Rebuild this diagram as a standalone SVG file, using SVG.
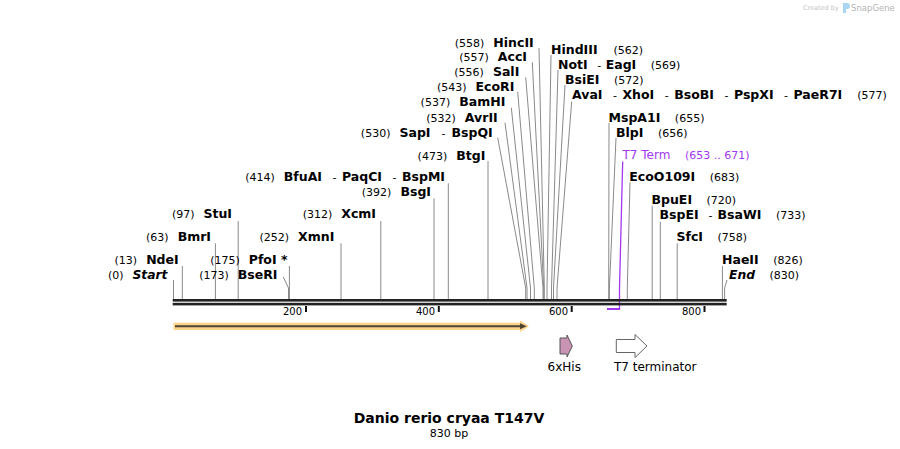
<svg xmlns="http://www.w3.org/2000/svg" width="900" height="449" viewBox="0 0 900 449">
<style>
text{font-family:"DejaVu Sans","Verdana",sans-serif;fill:#000}
.n{font-size:11px;font-weight:normal}
.b{font-size:12.5px;font-weight:bold}
.bi{font-size:12.3px;font-weight:bold;font-style:italic}
.h{font-size:11px;font-weight:normal}
.cut{fill:none;stroke:#8a8a8a;stroke-width:1}
.term{fill:none;stroke:#a238ef;stroke-width:1.3}
.pt{fill:#a238ef}
.ft{font-size:12px}
.rl{font-size:10px}
</style>
<rect width="900" height="449" fill="#fff"/>
<g id="watermark">
<text x="803" y="10" style="font-size:6.5px;fill:#c4c4c4">Created by</text>
<path d="M843,3 h4 a3,3 0 0 1 0,6 h-1 v4 h-3 z" fill="#a9d4f2"/>
<text x="851" y="11" style="font-size:8.5px;fill:#b4b4b4">SnapGene</text>
</g>
<g id="connectors">
<polyline class="cut" points="173.5,299 173.5,280"/>
<polyline class="cut" points="182.3,299 182.3,266"/>
<polyline class="cut" points="215.4,299 215.4,243.3"/>
<polyline class="cut" points="238.2,299 238.2,221"/>
<polyline class="cut" points="288.5,299 288.5,288 283.3,277"/>
<polyline class="cut" points="289.4,299 289.4,266"/>
<polyline class="cut" points="341,299 341,243.3"/>
<polyline class="cut" points="380.8,299 380.8,221"/>
<polyline class="cut" points="434,299 434,198.3"/>
<polyline class="cut" points="448.3,299 448.3,183.3"/>
<polyline class="cut" points="488,299 488,161"/>
<polyline class="cut" points="525.7,299 525.7,288 497.7,137.7"/>
<polyline class="cut" points="527,299 527,288 505,122.7"/>
<polyline class="cut" points="530.5,299 530.5,288 511.3,107.7"/>
<polyline class="cut" points="534.3,299 534.3,288 517.7,91.7"/>
<polyline class="cut" points="543,299 543,288 525.7,77.3"/>
<polyline class="cut" points="543.7,299 543.7,288 532.3,62.3"/>
<polyline class="cut" points="544.3,299 544.3,288 539,48"/>
<polyline class="cut" points="547,299 547,288 551,55"/>
<polyline class="cut" points="551.5,299 551.5,288 558,70"/>
<polyline class="cut" points="553.5,299 553.5,288 565,85"/>
<polyline class="cut" points="557,299 557,288 571.7,101.5"/>
<polyline class="cut" points="608.7,299 608.7,288 609,123"/>
<polyline class="cut" points="609.4,299 609.4,288 616,138"/>
<polyline class="cut" points="627.3,299 627.3,288 630,182.3"/>
<polyline class="cut" points="652.2,299 652.2,205.7"/>
<polyline class="cut" points="660.3,299 660.3,221.7"/>
<polyline class="cut" points="677.2,299 677.2,243.3"/>
<polyline class="cut" points="722.4,299 722.4,266"/>
<polyline class="cut" points="724.6,299 724.6,288 727,280"/>
<polyline class="term" points="622.7,161.5 619.5,288 619.5,309"/>
<line x1="607" y1="309" x2="620.1" y2="309" stroke="#a238ef" stroke-width="2"/>
</g>
<g id="sequence">
<rect x="172.7" y="299" width="554" height="2.6" fill="#222"/>
<rect x="172.7" y="302.8" width="554" height="2.6" fill="#222"/>
<rect x="305" y="306" width="2" height="6" fill="#111"/>
<rect x="437.8" y="306" width="2" height="6" fill="#111"/>
<rect x="570.7" y="306" width="2" height="6" fill="#111"/>
<rect x="703.5" y="306" width="2" height="6" fill="#111"/>
<text class="rl" x="302" y="315.3" text-anchor="end">200</text>
<text class="rl" x="435" y="315.3" text-anchor="end">400</text>
<text class="rl" x="568" y="315.3" text-anchor="end">600</text>
<text class="rl" x="701" y="315.3" text-anchor="end">800</text>
</g>
<g id="start"><text x="167.5" y="279.3" text-anchor="end"><tspan class="n">(0)</tspan><tspan class="bi" dx="9">Start</tspan></text></g>
<g id="NdeI"><text x="178.7" y="264.3" text-anchor="end"><tspan class="n">(13)</tspan><tspan class="b" dx="9">NdeI</tspan></text></g>
<g id="BmrI"><text x="211" y="241.3" text-anchor="end"><tspan class="n">(63)</tspan><tspan class="b" dx="9">BmrI</tspan></text></g>
<g id="StuI"><text x="232" y="218.3" text-anchor="end"><tspan class="n">(97)</tspan><tspan class="b" dx="9">StuI</tspan></text></g>
<g id="BseRI"><text x="277.5" y="279.3" text-anchor="end"><tspan class="n">(173)</tspan><tspan class="b" dx="9">BseRI</tspan></text></g>
<g id="PfoI"><text x="287.5" y="264.3" text-anchor="end"><tspan class="n">(175)</tspan><tspan class="b" dx="9">PfoI *</tspan></text></g>
<g id="XmnI"><text x="334.3" y="241.3" text-anchor="end"><tspan class="n">(252)</tspan><tspan class="b" dx="9">XmnI</tspan></text></g>
<g id="XcmI"><text x="376" y="218.3" text-anchor="end"><tspan class="n">(312)</tspan><tspan class="b" dx="9">XcmI</tspan></text></g>
<g id="BsgI"><text x="431" y="196.3" text-anchor="end"><tspan class="n">(392)</tspan><tspan class="b" dx="9">BsgI</tspan></text></g>
<g id="BfuAI"><text x="445" y="181.3" text-anchor="end"><tspan class="n">(414)</tspan><tspan class="b" dx="9">BfuAI</tspan><tspan class="h" dx="10.5">-</tspan><tspan class="b" dx="5.5">PaqCI</tspan><tspan class="h" dx="10.5">-</tspan><tspan class="b" dx="5.5">BspMI</tspan></text></g>
<g id="BtgI"><text x="485.3" y="160" text-anchor="end"><tspan class="n">(473)</tspan><tspan class="b" dx="9">BtgI</tspan></text></g>
<g id="SapI"><text x="492.7" y="136.5" text-anchor="end"><tspan class="n">(530)</tspan><tspan class="b" dx="9">SapI</tspan><tspan class="h" dx="11">-</tspan><tspan class="b" dx="6">BspQI</tspan></text></g>
<g id="AvrII"><text x="497.7" y="121.5" text-anchor="end"><tspan class="n">(532)</tspan><tspan class="b" dx="9">AvrII</tspan></text></g>
<g id="BamHI"><text x="505.3" y="105.5" text-anchor="end"><tspan class="n">(537)</tspan><tspan class="b" dx="9">BamHI</tspan></text></g>
<g id="EcoRI"><text x="514.3" y="91" text-anchor="end"><tspan class="n">(543)</tspan><tspan class="b" dx="9">EcoRI</tspan></text></g>
<g id="SalI"><text x="519.3" y="76" text-anchor="end"><tspan class="n">(556)</tspan><tspan class="b" dx="9">SalI</tspan></text></g>
<g id="AccI"><text x="527" y="61" text-anchor="end"><tspan class="n">(557)</tspan><tspan class="b" dx="9">AccI</tspan></text></g>
<g id="HincII"><text x="533.7" y="46.5" text-anchor="end"><tspan class="n">(558)</tspan><tspan class="b" dx="9">HincII</tspan></text></g>
<g id="HindIII"><text x="551" y="54.3"><tspan class="b">HindIII</tspan><tspan class="n" dx="16">(562)</tspan></text></g>
<g id="NotI"><text x="558" y="69.3"><tspan class="b">NotI</tspan><tspan class="h" dx="9.5">-</tspan><tspan class="b" dx="4.5">EagI</tspan><tspan class="n" dx="14.5">(569)</tspan></text></g>
<g id="BsiEI"><text x="565" y="84.3"><tspan class="b">BsiEI</tspan><tspan class="n" dx="14.5">(572)</tspan></text></g>
<g id="AvaI"><text x="572" y="99.3"><tspan class="b">AvaI</tspan><tspan class="h" dx="10.5">-</tspan><tspan class="b" dx="5.5">XhoI</tspan><tspan class="h" dx="10.5">-</tspan><tspan class="b" dx="5.5">BsoBI</tspan><tspan class="h" dx="10.5">-</tspan><tspan class="b" dx="5.5">PspXI</tspan><tspan class="h" dx="10.5">-</tspan><tspan class="b" dx="5.5">PaeR7I</tspan><tspan class="n" dx="15">(577)</tspan></text></g>
<g id="MspA1I"><text x="608.5" y="121.5"><tspan class="b">MspA1I</tspan><tspan class="n" dx="14.5">(655)</tspan></text></g>
<g id="BlpI"><text x="616" y="136.5"><tspan class="b">BlpI</tspan><tspan class="n" dx="14.5">(656)</tspan></text></g>
<g id="T7Term"><text x="622.5" y="159.3" class="pt"><tspan class="ft">T7 Term</tspan><tspan class="n" dx="14.5" style="fill:#a238ef">(653 .. 671)</tspan></text></g>
<g id="EcoO109I"><text x="629.3" y="181.3"><tspan class="b">EcoO109I</tspan><tspan class="n" dx="14.5">(683)</tspan></text></g>
<g id="BpuEI"><text x="651.5" y="204.3"><tspan class="b">BpuEI</tspan><tspan class="n" dx="14.5">(720)</tspan></text></g>
<g id="BspEI"><text x="659.5" y="219.3"><tspan class="b">BspEI</tspan><tspan class="h" dx="10">-</tspan><tspan class="b" dx="5">BsaWI</tspan><tspan class="n" dx="14.5">(733)</tspan></text></g>
<g id="SfcI"><text x="676.5" y="241.3"><tspan class="b">SfcI</tspan><tspan class="n" dx="14.5">(758)</tspan></text></g>
<g id="HaeII"><text x="722" y="263.6"><tspan class="b">HaeII</tspan><tspan class="n" dx="14.5">(826)</tspan></text></g>
<g id="end"><text x="729" y="279.3"><tspan class="bi">End</tspan><tspan class="n" dx="14.5">(830)</tspan></text></g>
<g id="orf">
<path d="M173.5,322.7 H520 V320.5 L529,326.3 L520,332.1 V330 H173.5 Z" fill="#fdd38a"/>
<line x1="175" y1="326.3" x2="521" y2="326.3" stroke="#4e4535" stroke-width="2"/>
<polygon points="520,323.3 526.7,326.3 520,329.3" fill="#4e4535"/>
</g>
<g id="his">
<path d="M560,338 H567 V335 L572.3,346 L567,357 V354 H560 Z" fill="#c993b4" stroke="#555" stroke-width="1"/>
<text class="ft" x="564.3" y="371.3" text-anchor="middle">6xHis</text>
</g>
<g id="t7terminator">
<path d="M616.3,339.5 H635 V334.5 L647,346 L635,357.5 V352.5 H616.3 Z" fill="#fff" stroke="#666" stroke-width="1"/>
<text class="ft" x="614" y="371.3">T7 terminator</text>
</g>
<g id="title">
<text x="449" y="423.3" text-anchor="middle" style="font-size:14px;font-weight:bold">Danio rerio cryaa T147V</text>
<text class="n" x="449" y="437" text-anchor="middle">830 bp</text>
</g>
</svg>
